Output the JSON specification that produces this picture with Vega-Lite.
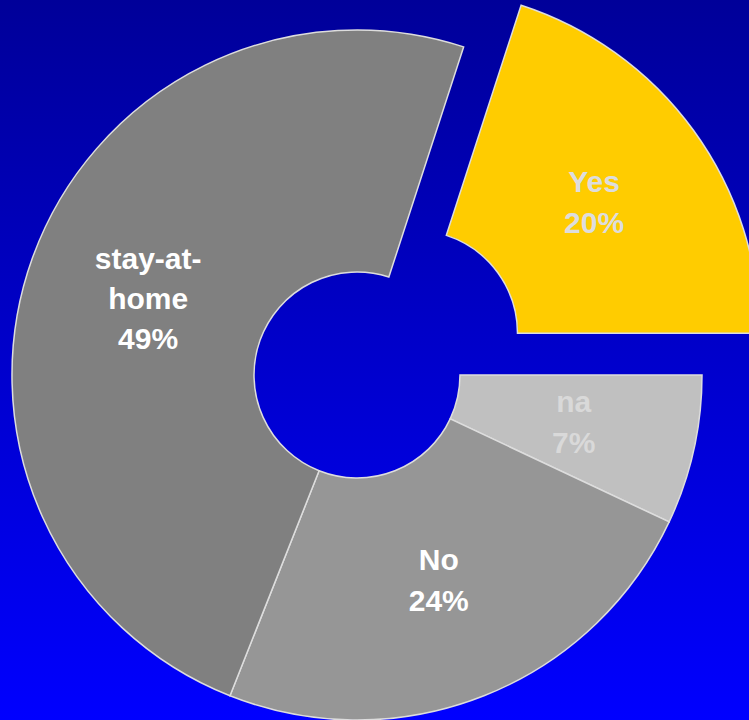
{
  "$schema": "https://vega.github.io/schema/vega-lite/v6.json",
  "width": 749,
  "height": 720,
  "autosize": {"type": "none"},
  "padding": 0,
  "background": "#0000cc",
  "config": {"view": {"stroke": null}},
  "data": {
    "values": [
      {"cat": "Yes", "label": "Yes\n20%", "pct": 20, "rank": 1},
      {"cat": "na", "label": "na\n7%", "pct": 7, "rank": 2},
      {"cat": "No", "label": "No\n24%", "pct": 24, "rank": 3},
      {"cat": "stay-at-home", "label": "stay-at-\nhome\n49%", "pct": 49, "rank": 4}
    ]
  },
  "layer": [
    {
      "data": {"values": [{}]},
      "mark": {
        "type": "rect",
        "fill": {
          "gradient": "linear", "x1": 0, "y1": 0, "x2": 0, "y2": 1,
          "stops": [
            {"offset": 0, "color": "#000099"},
            {"offset": 1, "color": "#0000ff"}
          ]
        }
      },
      "encoding": {
        "x": {"value": 0},
        "x2": {"value": "width"},
        "y": {"value": 0},
        "y2": {"value": "height"}
      }
    },
    {
      "mark": {"type": "arc", "radius": 345, "radius2": 103, "stroke": "#dddddd", "strokeWidth": 1.5, "xOffset": -17.5, "yOffset": 15},
      "encoding": {
        "theta": {"field": "pct", "type": "quantitative", "stack": true, "scale": {"type": "linear", "domain": [0, 100], "range": [0.3142, 6.5974]}},
        "order": {"field": "rank", "type": "quantitative"},
        "color": {"field": "cat", "type": "nominal", "legend": null, "scale": {"domain": ["Yes", "na", "No", "stay-at-home"], "range": ["#ffcc00", "#c0c0c0", "#969696", "#808080"]}},
        "opacity": {"condition": {"test": "datum.cat === 'Yes'", "value": 0}, "value": 1}
      }
    },
    {
      "mark": {"type": "arc", "radius": 345, "radius2": 103, "stroke": "#dddddd", "strokeWidth": 1.5, "xOffset": 40, "yOffset": -26.7},
      "encoding": {
        "theta": {"field": "pct", "type": "quantitative", "stack": true},
        "order": {"field": "rank", "type": "quantitative"},
        "color": {"field": "cat", "type": "nominal", "legend": null},
        "opacity": {"condition": {"test": "datum.cat === 'Yes'", "value": 1}, "value": 0}
      }
    },
    {
      "mark": {"type": "text", "radius": 222, "xOffset": -17.5, "yOffset": -5, "font": "Liberation Sans", "fontWeight": "bold", "fontSize": 30, "lineHeight": 41, "lineBreak": "\n", "align": "center", "baseline": "middle"},
      "encoding": {
        "theta": {"field": "pct", "type": "quantitative", "stack": true},
        "order": {"field": "rank", "type": "quantitative"},
        "text": {"field": "label"},
        "color": {"condition": {"test": "datum.cat === 'na'", "value": "#d9d9d9"}, "value": "#ffffff"},
        "opacity": {"condition": {"test": "datum.cat === 'na' || datum.cat === 'No'", "value": 1}, "value": 0}
      }
    },
    {
      "mark": {"type": "text", "radius": 222, "xOffset": -17.5, "yOffset": -25, "font": "Liberation Sans", "fontWeight": "bold", "fontSize": 30, "lineHeight": 40, "lineBreak": "\n", "align": "center", "baseline": "middle"},
      "encoding": {
        "theta": {"field": "pct", "type": "quantitative", "stack": true},
        "order": {"field": "rank", "type": "quantitative"},
        "text": {"field": "label"},
        "color": {"value": "#ffffff"},
        "opacity": {"condition": {"test": "datum.cat === 'stay-at-home'", "value": 1}, "value": 0}
      }
    },
    {
      "mark": {"type": "text", "radius": 222, "xOffset": 40, "yOffset": -46.5, "font": "Liberation Sans", "fontWeight": "bold", "fontSize": 30, "lineHeight": 41, "lineBreak": "\n", "align": "center", "baseline": "middle"},
      "encoding": {
        "theta": {"field": "pct", "type": "quantitative", "stack": true},
        "order": {"field": "rank", "type": "quantitative"},
        "text": {"field": "label"},
        "color": {"value": "#dddddd"},
        "opacity": {"condition": {"test": "datum.cat === 'Yes'", "value": 1}, "value": 0}
      }
    }
  ]
}
